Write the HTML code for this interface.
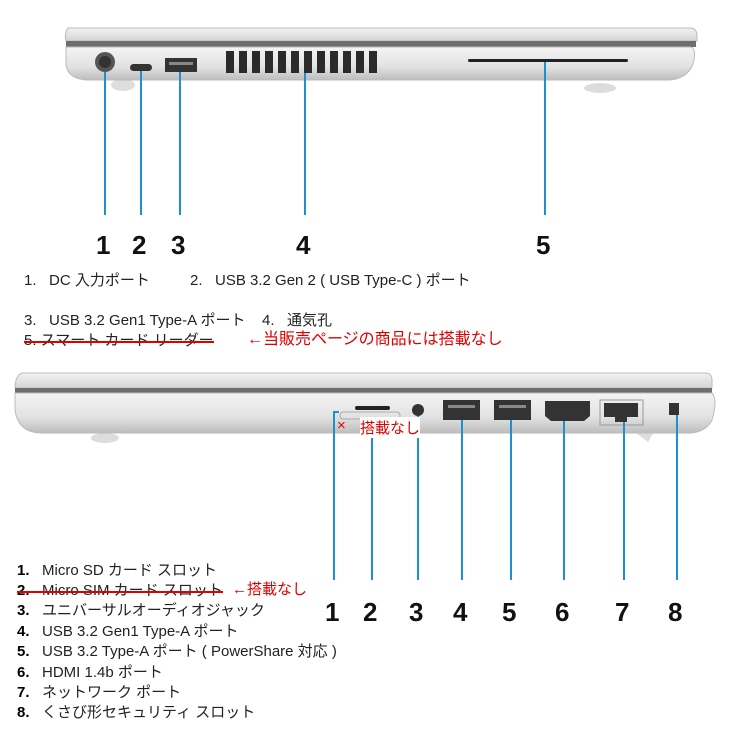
<!DOCTYPE html><html><head><meta charset="utf-8"><style>
body{margin:0;width:730px;height:730px;background:#fff;position:relative;overflow:hidden;font-family:"Liberation Sans","Noto Sans CJK JP",sans-serif;color:#222}
.t{position:absolute;font-size:15px;white-space:nowrap;line-height:1}
.n{font-weight:bold;color:#000}
.num{position:absolute;font-size:26px;font-weight:bold;color:#111;line-height:1}
.r{color:#e00000}
.s{position:relative}
.s:after{content:"";position:absolute;left:0;right:0;top:50%;height:2px;background:#e00000}
</style></head><body>
<svg width="730" height="730" style="position:absolute;left:0;top:0">
<defs>
<linearGradient id="g1" x1="0" y1="0" x2="0" y2="1"><stop offset="0" stop-color="#f2f2f2"/><stop offset="1" stop-color="#d4d4d4"/></linearGradient>
<linearGradient id="g2" x1="0" y1="0" x2="0" y2="1"><stop offset="0" stop-color="#f4f4f4"/><stop offset="0.6" stop-color="#e2e2e2"/><stop offset="1" stop-color="#bdbdbd"/></linearGradient>
</defs>
<ellipse cx="123" cy="85" rx="12" ry="6" fill="#ddd"/>
<ellipse cx="600" cy="88" rx="16" ry="5" fill="#ddd"/>
<path d="M68 28 H690 Q697 28 697 36 V41 H66 Q64 34 68 28Z" fill="url(#g1)" stroke="#bbb"/>
<rect x="66" y="41" width="630" height="6" fill="#6e6e6e"/>
<path d="M66 47 H690 Q696 47 694 60 Q690 78 670 80 H90 Q68 80 66 65Z" fill="url(#g2)" stroke="#bbb"/>
<circle cx="105" cy="62" r="10" fill="#555"/><circle cx="105" cy="62" r="6" fill="#333"/>
<rect x="130" y="64" width="22" height="7" rx="3.5" fill="#333"/>
<rect x="165" y="58" width="32" height="14" fill="#333"/><rect x="169" y="62" width="24" height="3" fill="#888"/>
<g fill="#2a2a2a">
<rect x="226" y="51" width="8" height="22"/><rect x="239" y="51" width="8" height="22"/><rect x="252" y="51" width="8" height="22"/><rect x="265" y="51" width="8" height="22"/><rect x="278" y="51" width="8" height="22"/><rect x="291" y="51" width="8" height="22"/><rect x="304" y="51" width="8" height="22"/><rect x="317" y="51" width="8" height="22"/><rect x="330" y="51" width="8" height="22"/><rect x="343" y="51" width="8" height="22"/><rect x="356" y="51" width="8" height="22"/><rect x="369" y="51" width="8" height="22"/>
</g>
<rect x="468" y="59" width="160" height="3" rx="1.5" fill="#222"/>
<g stroke="#1e8fd0" stroke-width="2">
<line x1="105" y1="72" x2="105" y2="215"/><line x1="141" y1="71" x2="141" y2="215"/><line x1="180" y1="72" x2="180" y2="215"/><line x1="305" y1="73" x2="305" y2="215"/><line x1="545" y1="62" x2="545" y2="215"/>
</g>
<ellipse cx="105" cy="438" rx="14" ry="5" fill="#ddd"/>
<path d="M632 430 L655 430 L648 442 Z" fill="#ddd"/>
<path d="M22 373 H705 Q712 373 712 380 V388 H15 Q15 376 22 373Z" fill="url(#g1)" stroke="#bbb"/>
<rect x="15" y="388" width="697" height="5" fill="#6e6e6e"/>
<path d="M15 393 H712 Q718 400 712 420 Q706 432 690 433 H40 Q18 432 15 410Z" fill="url(#g2)" stroke="#bbb"/>
<rect x="355" y="406" width="35" height="4" rx="2" fill="#222"/>
<rect x="340" y="412" width="60" height="7" rx="3" fill="none" stroke="#aaa"/>
<circle cx="418" cy="410" r="6" fill="#333"/>
<rect x="443" y="400" width="37" height="20" fill="#333"/><rect x="448" y="405" width="27" height="3" fill="#888"/>
<rect x="494" y="400" width="37" height="20" fill="#333"/><rect x="499" y="405" width="27" height="3" fill="#888"/>
<path d="M545 401 H590 V416 L584 421 H551 L545 416Z" fill="#333"/>
<rect x="600" y="400" width="43" height="25" fill="none" stroke="#999"/><rect x="604" y="403" width="34" height="14" fill="#333"/><rect x="615" y="417" width="12" height="5" fill="#333"/>
<rect x="669" y="403" width="10" height="12" fill="#333"/>
<g stroke="#1e8fd0" stroke-width="2">
<polyline points="339,412 334,412 334,580" fill="none"/><line x1="372" y1="435" x2="372" y2="580"/><line x1="418" y1="416" x2="418" y2="580"/><line x1="462" y1="420" x2="462" y2="580"/><line x1="511" y1="420" x2="511" y2="580"/><line x1="564" y1="421" x2="564" y2="580"/><line x1="624" y1="422" x2="624" y2="580"/><line x1="677" y1="415" x2="677" y2="580"/>
</g>
</svg>
<div class="num" style="left:96px;top:232px">1</div><div class="num" style="left:132px;top:232px">2</div><div class="num" style="left:171px;top:232px">3</div><div class="num" style="left:296px;top:232px">4</div><div class="num" style="left:536px;top:232px">5</div>
<div class="num" style="left:325px;top:599px">1</div><div class="num" style="left:363px;top:599px">2</div><div class="num" style="left:409px;top:599px">3</div><div class="num" style="left:453px;top:599px">4</div><div class="num" style="left:502px;top:599px">5</div><div class="num" style="left:555px;top:599px">6</div><div class="num" style="left:615px;top:599px">7</div><div class="num" style="left:668px;top:599px">8</div>
<div class="r" style="position:absolute;left:337px;top:417px;font-size:15px">×</div>
<div class="r" style="position:absolute;left:360px;top:417px;font-size:15px;background:#fff">搭載なし</div>
<div class="t" style="left:24px;top:273px">1.&nbsp;&nbsp; DC 入力ポート</div>
<div class="t" style="left:190px;top:273px">2.&nbsp;&nbsp; USB 3.2 Gen 2 ( USB Type-C ) ポート</div>
<div class="t" style="left:24px;top:313px">3.&nbsp;&nbsp; USB 3.2 Gen1 Type-A ポート</div>
<div class="t" style="left:262px;top:313px">4.&nbsp;&nbsp; 通気孔</div>
<div class="t s" style="position:absolute;left:24px;top:333px">5. スマート カード リーダー</div>
<div class="t r" style="left:247px;top:332px;font-size:16px">←当販売ページの商品には搭載なし</div>
<div class="t" style="left:17px;top:563px"><span class="n">1.</span>&nbsp;&nbsp; Micro SD カード スロット</div>
<div class="t s" style="position:absolute;left:17px;top:583px"><span class="n">2.</span>&nbsp;&nbsp; Micro SIM カード スロット</div>
<div class="t r" style="left:232px;top:582px">←搭載なし</div>
<div class="t" style="left:17px;top:603px"><span class="n">3.</span>&nbsp;&nbsp; ユニバーサルオーディオジャック</div>
<div class="t" style="left:17px;top:624px"><span class="n">4.</span>&nbsp;&nbsp; USB 3.2 Gen1 Type-A ポート</div>
<div class="t" style="left:17px;top:644px"><span class="n">5.</span>&nbsp;&nbsp; USB 3.2 Type-A ポート ( PowerShare 対応 )</div>
<div class="t" style="left:17px;top:665px"><span class="n">6.</span>&nbsp;&nbsp; HDMI 1.4b ポート</div>
<div class="t" style="left:17px;top:685px"><span class="n">7.</span>&nbsp;&nbsp; ネットワーク ポート</div>
<div class="t" style="left:17px;top:705px"><span class="n">8.</span>&nbsp;&nbsp; くさび形セキュリティ スロット</div>
</body></html>
